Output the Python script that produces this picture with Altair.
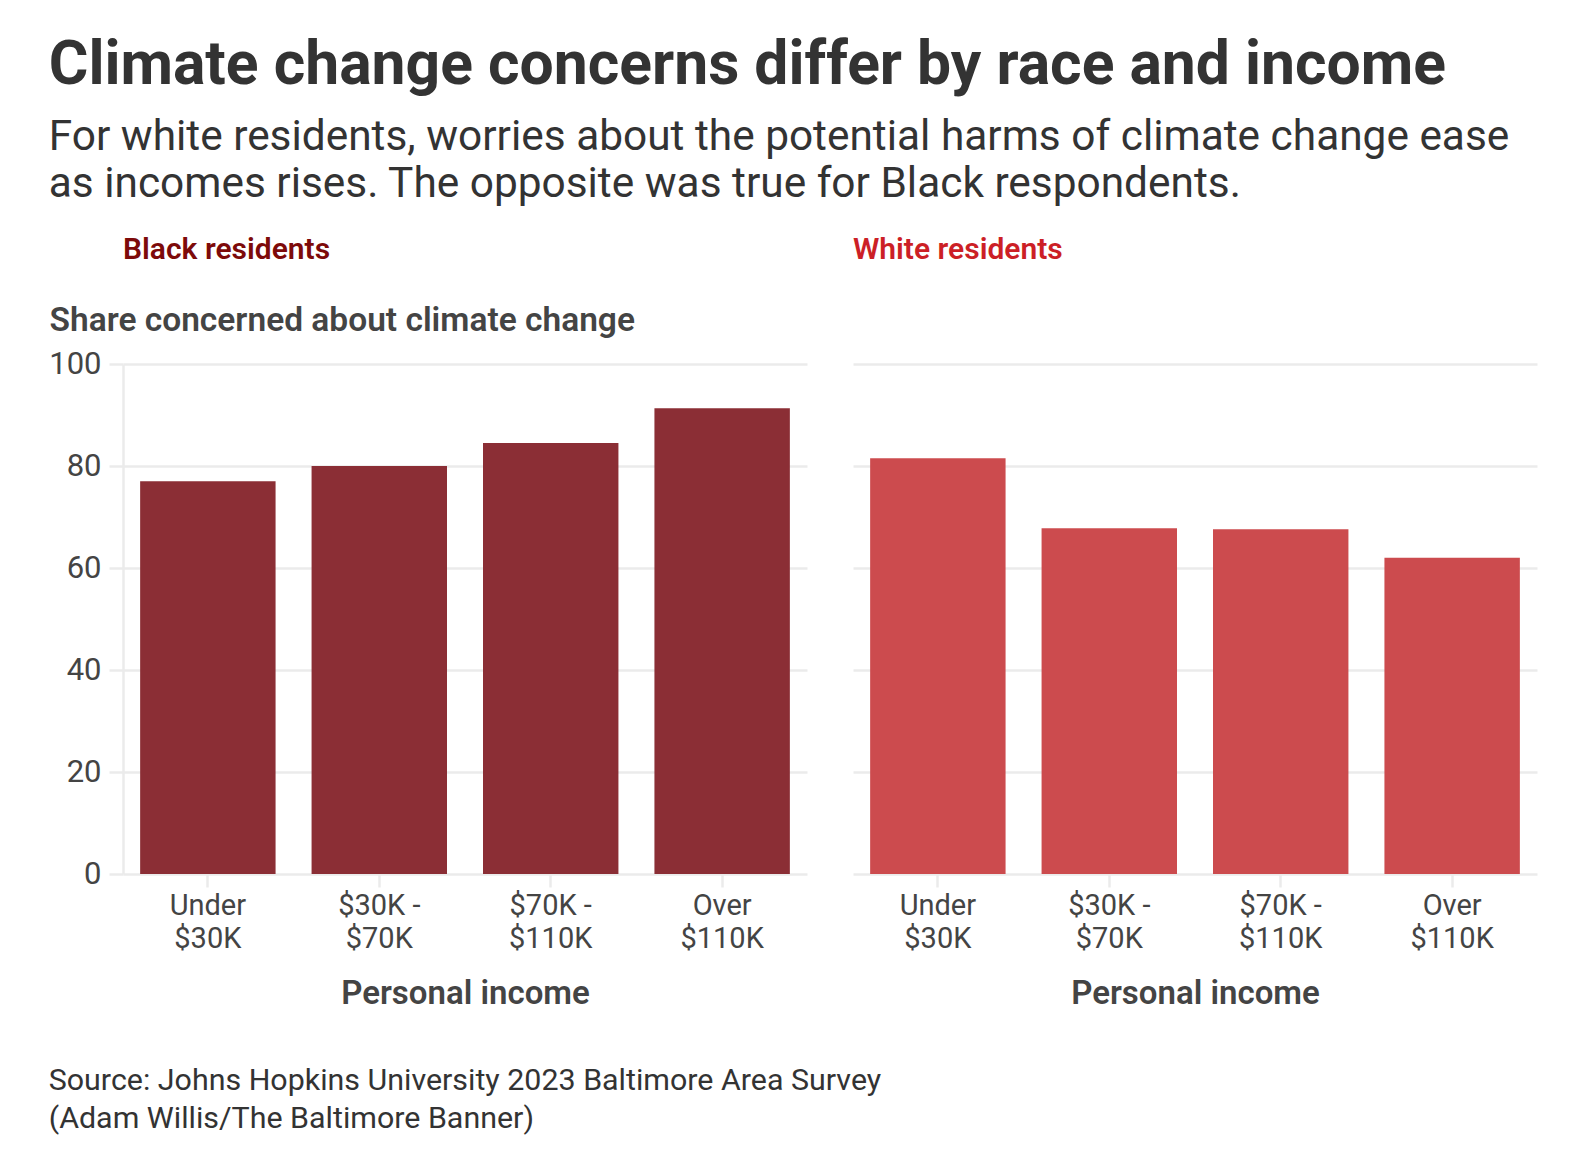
import altair as alt
import pandas as pd

# ---- data ----
income = ["Under $30K", "$30K - $70K", "$70K - $110K", "Over $110K"]
black_share = [77.0, 80.0, 84.5, 91.3]
white_share = [81.5, 67.8, 67.6, 62.0]
y_ticks = [0, 20, 40, 60, 80, 100]

title_text = "Climate change concerns differ by race and income"
subtitle_lines = [
    "For white residents, worries about the potential harms of climate change ease",
    "as incomes rises. The opposite was true for Black respondents.",
]
source_lines = [
    "Source: Johns Hopkins University 2023 Baltimore Area Survey",
    "(Adam Willis/The Baltimore Banner)",
]

FONT = "Roboto"
TEXT = "#333333"
AXIS_TEXT = "#444444"
GRID = "#ebebeb"

label_expr = ("[slice(datum.label, 0, lastindexof(datum.label, ' ')), "
              "slice(datum.label, lastindexof(datum.label, ' ') + 1)]")


def panel(values, bar_color, name, name_color, first, title_offset):
    df = pd.DataFrame({"income": income, "share": values})
    if first:
        y_axis = alt.Axis(
            values=y_ticks, grid=True, gridColor=GRID, gridWidth=2.5,
            domain=True, domainColor=GRID, domainWidth=2.5,
            ticks=True, tickColor=GRID, tickSize=14, tickWidth=2.5,
            labelFontSize=31, labelColor=AXIS_TEXT, labelPadding=8, labelFont=FONT,
            title="Share concerned about climate change",
            titleAngle=0, titleAlign="left", titleBaseline="alphabetic",
            titleX=-74, titleY=-34, titleFontSize=33.5, titleFontWeight=600,
            titleColor=AXIS_TEXT, titleFont=FONT,
        )
    else:
        y_axis = alt.Axis(
            values=y_ticks, grid=True, gridColor=GRID, gridWidth=2.5,
            domain=False, ticks=False, labels=False, title=None,
        )
    x_axis = alt.Axis(
        labelAngle=0, labelExpr=label_expr, labelFontSize=29, labelLineHeight=33,
        labelColor=AXIS_TEXT, labelFont=FONT, labelPadding=4,
        ticks=True, tickSize=13, tickColor=GRID, tickWidth=2.5, domain=False,
        title="Personal income", titleFontSize=33, titleFontWeight=600,
        titleColor=AXIS_TEXT, titleFont=FONT, titlePadding=24,
    )
    return alt.Chart(df).mark_bar(color=bar_color).encode(
        x=alt.X("income:N", sort=income, axis=x_axis,
                scale=alt.Scale(paddingInner=0.21, paddingOuter=0.1)),
        y=alt.Y("share:Q", axis=y_axis, scale=alt.Scale(domain=[0, 100], nice=False)),
    ).properties(
        width=684, height=510,
        title=alt.TitleParams(name, anchor="start", frame="group", color=name_color,
                              fontSize=30, fontWeight=600, font=FONT, offset=title_offset),
    )


left = panel(black_share, "#8b2e35", "Black residents", "#7d0a0a", True, 38)
right = panel(white_share, "#cc4b4e", "White residents", "#cc1f26", False, 99)

inner = alt.hconcat(left, right, spacing=46).properties(
    title=alt.TitleParams(source_lines, orient="bottom", anchor="start", frame="bounds",
                          fontSize=30.4, fontWeight=400, color=TEXT, font=FONT,
                          lineHeight=38, offset=56)
)

chart = alt.vconcat(inner).properties(
    title=alt.TitleParams(
        title_text, subtitle=subtitle_lines, anchor="start", frame="bounds",
        fontSize=60.6, fontWeight=700, color=TEXT, font=FONT,
        subtitleFontSize=42.4, subtitleColor=TEXT, subtitleFont=FONT,
        subtitleLineHeight=47, subtitlePadding=20, offset=30,
    )
).configure(
    padding={"left": 40, "top": 28, "right": 20, "bottom": 30},
).configure_view(stroke=None)

chart.save("out.html", embed_options={"renderer": "svg", "actions": False})
